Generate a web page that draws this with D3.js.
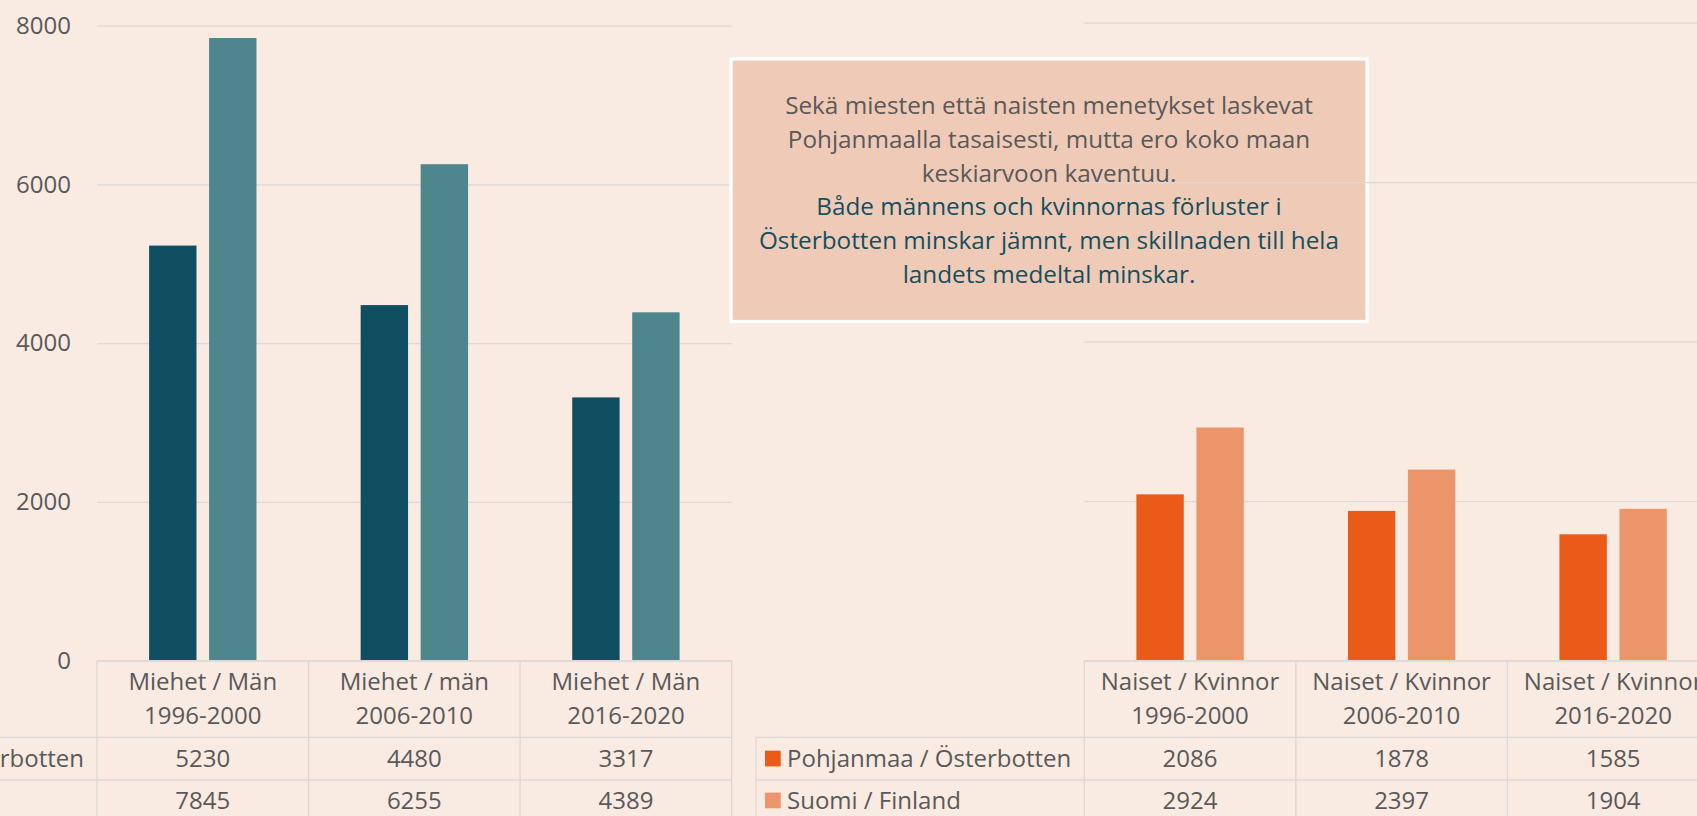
<!DOCTYPE html>
<html>
<head>
<meta charset="utf-8">
<script src="https://cdn.jsdelivr.net/npm/d3@7"></script>
<style>
	body { margin: 0; background: #f9eae2; overflow: hidden; }
	svg { display: block; font-family: 'Open Sans', sans-serif; }
</style>
</head>
<body>
<svg width="1697" height="816"></svg>
<script>
let periods = ['1996-2000', '2006-2010', '2016-2020']
let menLabels = ['Miehet / Män', 'Miehet / män', 'Miehet / Män']
let womenLabels = ['Naiset / Kvinnor', 'Naiset / Kvinnor', 'Naiset / Kvinnor']
let seriesNames = ['Pohjanmaa / Österbotten', 'Suomi / Finland']
let menOsterbotten = [5230, 4480, 3317]
let menFinland = [7845, 6255, 4389]
let womenOsterbotten = [2086, 1878, 1585]
let womenFinland = [2924, 2397, 1904]
let yTicks = [0, 2000, 4000, 6000, 8000]
let noteFi = ['Sekä miesten että naisten menetykset laskevat', 'Pohjanmaalla tasaisesti, mutta ero koko maan', 'keskiarvoon kaventuu.']
let noteSv = ['Både männens och kvinnornas förluster i', 'Österbotten minskar jämnt, men skillnaden till hela', 'landets medeltal minskar.']

let svg = d3.select('svg')
let textColor = '#595959'
let lineColor = '#dcd8d6'

svg.append('rect')
	.attr('width', 1697)
	.attr('height', 816)
	.attr('fill', '#f9eae2')

function panel(o) {
	let g = svg.append('g')
	let xScale = d3.scaleBand().domain(periods).range([o.left, o.right])
	let band = xScale.bandwidth()
	let cluster = band * 0.5076
	let xInner = d3.scaleBand()
		.domain(seriesNames)
		.range([(band - cluster) / 2, (band + cluster) / 2])
		.paddingInner(0.21)
	let yScale = d3.scaleLinear().domain([0, 8000]).range([660.7, o.top])

	let axis = d3.axisLeft(yScale)
		.tickValues(yTicks)
		.tickSize(-(o.right - o.left))
		.tickPadding(26)
		.tickFormat(o.showLabels ? d3.format('d') : '')
	let axisG = g.append('g')
		.attr('transform', `translate(${o.left},0)`)
		.call(axis)
	axisG.attr('font-family', null).attr('font-size', 24)
	axisG.select('.domain').remove()
	axisG.selectAll('line').attr('stroke', lineColor).attr('stroke-width', 1.3)
	axisG.selectAll('text').attr('fill', textColor)

	o.values.forEach((vals, si) => {
		g.append('g').selectAll('rect')
			.data(vals)
			.enter()
			.append('rect')
			.attr('x', (d, i) => xScale(periods[i]) + xInner(seriesNames[si]))
			.attr('y', d => yScale(d))
			.attr('width', xInner.bandwidth())
			.attr('height', d => yScale(0) - yScale(d))
			.attr('fill', o.colors[si])
	})

	// data table under the plot
	let rows = [660.7, 737.3, 780, 822.7]
	let legendLeft = o.left - 328.3
	let t = g.append('g')
		.attr('stroke', lineColor)
		.attr('stroke-width', 1.3)
	t.append('line').attr('x1', o.left).attr('x2', o.right).attr('y1', rows[0]).attr('y2', rows[0])
	rows.slice(1).forEach(y => {
		t.append('line').attr('x1', legendLeft).attr('x2', o.right).attr('y1', y).attr('y2', y)
	})
	periods.map(p => xScale(p)).concat([o.right]).forEach(x => {
		t.append('line').attr('x1', x).attr('x2', x).attr('y1', rows[0]).attr('y2', rows[3])
	})
	t.append('line').attr('x1', legendLeft).attr('x2', legendLeft).attr('y1', rows[1]).attr('y2', rows[3])

	let txt = g.append('g')
		.attr('fill', textColor)
		.attr('font-size', 24)
		.attr('text-anchor', 'middle')
	periods.forEach((p, i) => {
		let cx = xScale(p) + band / 2
		txt.append('text').attr('x', cx).attr('y', 681.7).attr('dy', '0.35em').text(o.labels[i])
		txt.append('text').attr('x', cx).attr('y', 716).attr('dy', '0.35em').text(p)
		o.values.forEach((vals, si) => {
			txt.append('text')
				.attr('x', cx)
				.attr('y', si == 0 ? 759 : 800.5)
				.attr('dy', '0.35em')
				.text(vals[i])
		})
	})

	seriesNames.forEach((name, si) => {
		let cy = si == 0 ? 758.6 : 800.5
		g.append('rect')
			.attr('x', legendLeft + 9)
			.attr('y', cy - 7.9)
			.attr('width', 15.7)
			.attr('height', 15.7)
			.attr('fill', o.colors[si])
		g.append('text')
			.attr('x', legendLeft + 31)
			.attr('y', cy)
			.attr('dy', '0.35em')
			.attr('fill', textColor)
			.attr('font-size', 24)
			.text(name)
	})
}

panel({
	left: 97,
	right: 731.7,
	top: 25.7,
	showLabels: true,
	labels: menLabels,
	values: [menOsterbotten, menFinland],
	colors: ['#104f61', '#4f868e']
})

// comment box sits between the two charts
let box = svg.append('g')
box.append('rect')
	.attr('x', 731)
	.attr('y', 59)
	.attr('width', 636)
	.attr('height', 262.5)
	.attr('fill', '#efcbb7')
	.attr('stroke', '#ffffff')
	.attr('stroke-width', 3.3)
noteFi.concat(noteSv).forEach((line, i) => {
	box.append('text')
		.attr('x', 1049)
		.attr('y', 114 + i * 33.8)
		.attr('text-anchor', 'middle')
		.attr('font-size', 24.3)
		.attr('fill', i < noteFi.length ? textColor : '#144f60')
		.text(line)
})

panel({
	left: 1084.3,
	right: 1718.9,
	top: 22.7,
	showLabels: false,
	labels: womenLabels,
	values: [womenOsterbotten, womenFinland],
	colors: ['#ea5b1a', '#ed956a']
})
</script>
</body>
</html>
